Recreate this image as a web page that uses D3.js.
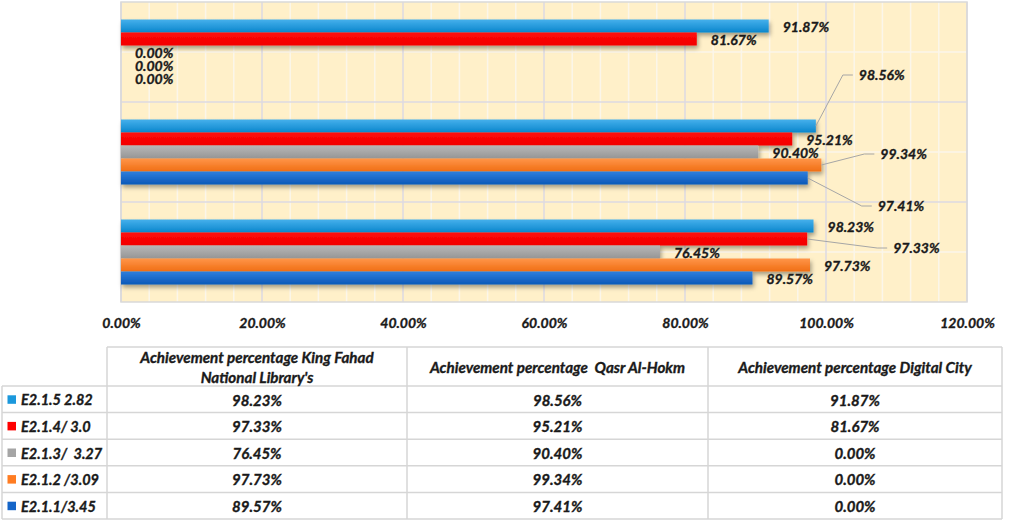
<!DOCTYPE html>
<html>
<head>
<meta charset="utf-8">
<script src="https://cdn.jsdelivr.net/npm/d3@7"></script>
<style>
	body { margin: 0; background: white; }
	svg text { font-family: Lato, 'Open Sans', sans-serif; font-weight: bold; font-style: italic; fill: #1a1a1a; stroke: #1a1a1a; stroke-width: 0.35px; }
</style>
</head>
<body>
<div id="chart"></div>
<script>
// categories (table column order) and chart order (top to bottom)
var categories = ["Achievement percentage King Fahad National Library's", 'Achievement percentage  Qasr Al-Hokm', 'Achievement percentage Digital City'];
var header_lines = [["Achievement percentage King Fahad", "National Library's"], ['Achievement percentage  Qasr Al-Hokm'], ['Achievement percentage Digital City']];
var series = ['E2.1.5 2.82', 'E2.1.4/ 3.0', 'E2.1.3/  3.27', 'E2.1.2 /3.09', 'E2.1.1/3.45'];

// values per series, same order as categories
var e215 = [98.23, 98.56, 91.87];
var e214 = [97.33, 95.21, 81.67];
var e213 = [76.45, 90.40, 0];
var e212 = [97.73, 99.34, 0];
var e211 = [89.57, 97.41, 0];
var values = [e215, e214, e213, e212, e211];

var x_ticks = [0, 20, 40, 60, 80, 100, 120];

// looks
var colors = ['#1b98dc', '#ff0000', '#a5a5a5', '#ff7c22', '#1565c8'];
var color_top = ['#45b0ec', '#ff0a0a', '#b8b8b8', '#ff9548', '#2f7fdc'];
var color_bot = ['#0a86cc', '#f20000', '#959595', '#f06e14', '#0a58b8'];

// labels moved off the bar (series index, category index, dx, dy)
var moved_labels = [
	{s: 0, c: 1, dx: 29, dy: -52},
	{s: 3, c: 1, dx: 45, dy: -12},
	{s: 4, c: 1, dx: 56, dy: 27},
	{s: 1, c: 0, dx: 72, dy: 8}
];

var fmt = d => d3.format('.2f')(d) + '%';

var svg = d3.select('#chart')
	.append('svg')
		.attr('width', 1010)
		.attr('height', 522);

var defs = svg.append('defs');
var shadow = defs.append('filter')
	.attr('id', 'shadow')
	.attr('x', '-5%').attr('y', '-30%')
	.attr('width', '110%').attr('height', '180%');
shadow.append('feDropShadow')
	.attr('dx', 1.5).attr('dy', 3)
	.attr('stdDeviation', 2)
	.attr('flood-color', '#000')
	.attr('flood-opacity', 0.35);

series.forEach(function(s, i) {
	var g = defs.append('linearGradient')
		.attr('id', 'grad' + i)
		.attr('x1', 0).attr('y1', 0).attr('x2', 0).attr('y2', 1);
	g.append('stop').attr('offset', '0%').attr('stop-color', color_top[i]);
	g.append('stop').attr('offset', '100%').attr('stop-color', color_bot[i]);
});

var plot = {left: 121, right: 967, top: 2, bottom: 302};

var x = d3.scaleLinear()
	.domain([0, 120])
	.range([plot.left, plot.right]);

var y = d3.scaleBand()
	.domain([2, 1, 0])
	.range([plot.top, plot.bottom])
	.paddingInner(0.35)
	.paddingOuter(0.175);

var y_inner = d3.scaleBand()
	.domain(d3.range(series.length))
	.range([0, y.bandwidth()]);

// background
svg.append('rect')
	.attr('x', plot.left)
	.attr('y', plot.top)
	.attr('width', plot.right - plot.left)
	.attr('height', plot.bottom - plot.top)
	.style('fill', '#fff0c9');

// minor grid
svg.append('g')
	.selectAll('line')
	.data(d3.range(4, 120, 4).filter(d => d % 20 != 0))
	.enter()
	.append('line')
		.attr('x1', d => x(d)).attr('x2', d => x(d))
		.attr('y1', plot.top).attr('y2', plot.bottom)
		.style('stroke', '#fbf6ea')
		.style('stroke-width', 1.5);
svg.append('g')
	.selectAll('line')
	.data([2, 1, 0])
	.enter()
	.append('line')
		.attr('x1', plot.left).attr('x2', plot.right)
		.attr('y1', d => y(d) - y.step() * 0.175 + y.step() / 2)
		.attr('y2', d => y(d) - y.step() * 0.175 + y.step() / 2)
		.style('stroke', '#fbf6ea')
		.style('stroke-width', 1.5);

// major grid
svg.append('g')
	.selectAll('line')
	.data(x_ticks)
	.enter()
	.append('line')
		.attr('x1', d => x(d)).attr('x2', d => x(d))
		.attr('y1', plot.top).attr('y2', plot.bottom)
		.style('stroke', '#dcdae2')
		.style('stroke-width', 1.5);
svg.append('g')
	.selectAll('line')
	.data([1, 0])
	.enter()
	.append('line')
		.attr('x1', plot.left).attr('x2', plot.right)
		.attr('y1', d => y(d) - y.step() * 0.175)
		.attr('y2', d => y(d) - y.step() * 0.175)
		.style('stroke', '#dcdae2')
		.style('stroke-width', 1.5);

svg.append('rect')
	.attr('x', plot.left)
	.attr('y', plot.top)
	.attr('width', plot.right - plot.left)
	.attr('height', plot.bottom - plot.top)
	.style('fill', 'none')
	.style('stroke', '#d9d9d9')
	.style('stroke-width', 1.5);

// bars
var bar_data = [];
values.forEach(function(vals, s) {
	vals.forEach(function(v, c) {
		bar_data.push({s: s, c: c, v: v});
	});
});

svg.append('g')
	.selectAll('g')
	.data([2, 1, 0])
	.enter()
	.append('g')
		.attr('filter', 'url(#shadow)')
		.each(function(c) {
			d3.select(this)
				.selectAll('rect')
				.data(bar_data.filter(d => d.c == c && d.v > 0))
				.enter()
				.append('rect')
					.attr('x', x(0))
					.attr('y', d => y(d.c) + y_inner(d.s))
					.attr('width', d => x(d.v) - x(0))
					.attr('height', y_inner.bandwidth())
					.style('fill', d => 'url(#grad' + d.s + ')');
		});

// data labels
var bar_mid = d => y(d.c) + y_inner(d.s) + y_inner.bandwidth() / 2;
var find_move = d => moved_labels.find(m => m.s == d.s && m.c == d.c);
var label_x = function(d) {
	var m = find_move(d);
	return x(d.v) + 14 + (m ? m.dx : 0);
};
var label_y = function(d) {
	var m = find_move(d);
	return bar_mid(d) + 1 + (m ? m.dy : 0);
};

svg.append('g')
	.selectAll('path')
	.data(bar_data.filter(d => find_move(d)))
	.enter()
	.append('path')
		.attr('d', d => 'M' + x(d.v) + ',' + bar_mid(d) + 'L' + (label_x(d) - 16) + ',' + label_y(d) + 'L' + (label_x(d) - 6) + ',' + label_y(d))
		.style('fill', 'none')
		.style('stroke', '#a6a6a6')
		.style('stroke-width', 1);

svg.append('g')
	.selectAll('text')
	.data(bar_data)
	.enter()
	.append('text')
		.attr('x', label_x)
		.attr('y', label_y)
		.attr('dy', '0.35em')
		.text(d => fmt(d.v))
		.style('font-size', '14px');

// x axis
var x_axis = svg.append('g')
	.attr('transform', 'translate(0,' + plot.bottom + ')')
	.call(d3.axisBottom(x).tickValues(x_ticks).tickSize(0).tickFormat(fmt));
x_axis.select('.domain').remove();
x_axis.selectAll('text')
	.attr('y', 21)
	.attr('dy', '0.35em')
	.style('font-size', '14px')
	.style('font-family', null);

// table
var cols = [2, 107, 407, 708, 1002];
var head_top = 347;
var row_h = 26.6;
var row_top = 386;
var tbl = svg.append('g');
var border = '#d6d6d6';

tbl.append('line')
	.attr('x1', cols[1]).attr('x2', cols[4])
	.attr('y1', head_top).attr('y2', head_top)
	.style('stroke', border).style('stroke-width', 1.5);
tbl.selectAll('hline')
	.data(d3.range(series.length + 1))
	.enter()
	.append('line')
		.attr('x1', cols[0]).attr('x2', cols[4])
		.attr('y1', i => row_top + i * row_h)
		.attr('y2', i => row_top + i * row_h)
		.style('stroke', border).style('stroke-width', 1.5);
tbl.selectAll('vline')
	.data(cols)
	.enter()
	.append('line')
		.attr('x1', d => d).attr('x2', d => d)
		.attr('y1', (d, i) => i == 0 ? row_top : head_top)
		.attr('y2', row_top + series.length * row_h)
		.style('stroke', border).style('stroke-width', 1.5);

// header
header_lines.forEach(function(lines, c) {
	var cx = (cols[c + 1] + cols[c + 2]) / 2;
	var mid = (head_top + row_top) / 2 + 1;
	tbl.append('text')
		.attr('text-anchor', 'middle')
		.attr('x', cx)
		.attr('y', mid - (lines.length - 1) * 10)
		.style('font-size', '15.2px')
		.style('white-space', 'pre')
		.selectAll('tspan')
		.data(lines)
		.enter()
		.append('tspan')
			.attr('x', cx)
			.attr('dy', (d, i) => i == 0 ? '0.35em' : 20)
			.text(d => d);
});

// rows
series.forEach(function(s, i) {
	var mid = row_top + i * row_h + row_h / 2;
	tbl.append('rect')
		.attr('x', 7.5)
		.attr('y', mid - 4)
		.attr('width', 8.5)
		.attr('height', 8.5)
		.style('fill', colors[i]);
	tbl.append('text')
		.attr('x', 21)
		.attr('y', mid + 1)
		.attr('dy', '0.35em')
		.style('font-size', '14.5px')
		.style('white-space', 'pre')
		.text(s);
	values[i].forEach(function(v, c) {
		tbl.append('text')
			.attr('text-anchor', 'middle')
			.attr('x', (cols[c + 1] + cols[c + 2]) / 2)
			.attr('y', mid + 1)
			.attr('dy', '0.35em')
			.style('font-size', '15px')
			.text(fmt(v));
	});
});
</script>
</body>
</html>
